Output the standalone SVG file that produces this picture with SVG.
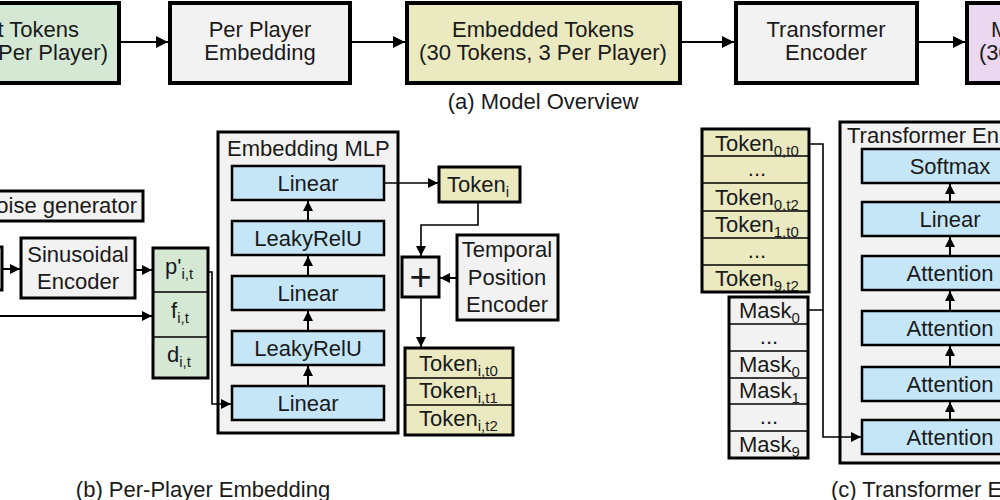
<svg xmlns="http://www.w3.org/2000/svg" width="1000" height="500" viewBox="0 0 1000 500">
<defs>
<marker id="ah" markerUnits="userSpaceOnUse" markerWidth="12" markerHeight="12" refX="12" refY="6" orient="auto"><path d="M0,0 L12,6 L0,12 Z" fill="#000"/></marker>
<marker id="as" markerUnits="userSpaceOnUse" markerWidth="10" markerHeight="10" refX="10" refY="5" orient="auto"><path d="M0,0 L10,5 L0,10 Z" fill="#000"/></marker>
<style>
text{font-family:"Liberation Sans",Arial,sans-serif;fill:#1a1a1a;}
.t{font-size:22px;text-anchor:middle;}
.tl{font-size:22px;}
.big{stroke:#000;stroke-width:4;}
.mid{stroke:#000;stroke-width:3;}
.blk{stroke:#000;stroke-width:2.5;fill:#c5e6f6;}
.div{stroke:#000;stroke-width:1.3;}
.g{fill:#d5e8d4;} .y{fill:#ebe9c0;} .gr{fill:#f2f2f2;} .p{fill:#ead7f0;}
.c{stroke:#000;stroke-width:2;fill:none;}
.cs{stroke:#000;stroke-width:1.6;fill:none;}
.sub{font-size:15px;}
</style>
</defs>

<!-- (a) Model overview -->
<g id="input-tokens"><rect x="-30" y="3" width="149" height="80" class="g big"/><text class="tl" x="79" y="37" text-anchor="end">t Tokens</text><text class="tl" x="108" y="60" text-anchor="end">(Per Player)</text></g>
<g id="per-player-embedding"><rect x="170" y="3" width="180" height="80" class="gr big"/><text class="t" x="260" y="37">Per Player</text><text class="t" x="260" y="60">Embedding</text></g>
<g id="embedded-tokens"><rect x="407" y="3" width="273" height="80" class="y big"/><text class="t" x="543" y="37">Embedded Tokens</text><text class="t" x="543" y="60">(30 Tokens, 3 Per Player)</text></g>
<g id="transformer-encoder"><rect x="736" y="3" width="181" height="80" class="gr big"/><text class="t" x="826" y="37">Transformer</text><text class="t" x="826" y="60">Encoder</text></g>
<g id="model-output"><rect x="967" y="3" width="80" height="80" class="p big"/><text class="tl" x="991" y="37">M</text><text class="tl" x="979" y="60">(30</text></g>
<text id="caption-a" class="t" x="543" y="109">(a) Model Overview</text>

<!-- (b) Per-player embedding -->
<g id="noise-generator"><rect x="-20" y="191" width="163" height="30" class="gr mid"/><text class="tl" x="137" y="213" text-anchor="end">oise generator</text></g>
<g id="left-cut-box"><rect x="-40" y="247" width="42" height="43" class="gr mid"/></g>
<g id="sinusoidal-encoder"><rect x="21" y="238" width="114" height="60" class="gr mid"/><text class="t" x="78" y="262">Sinusoidal</text><text class="t" x="78" y="289">Encoder</text></g>
<g id="features"><rect x="153" y="248" width="55" height="130" class="g mid"/><line x1="153" y1="292" x2="208" y2="292" class="div"/><line x1="153" y1="337" x2="208" y2="337" class="div"/>
<text class="tl" x="165" y="274">p'<tspan class="sub" dy="5">i,t</tspan></text>
<text class="tl" x="171" y="318">f<tspan class="sub" dy="5">i,t</tspan></text>
<text class="tl" x="167" y="362">d<tspan class="sub" dy="5">i,t</tspan></text></g>
<g id="embedding-mlp"><rect x="218" y="132" width="180" height="301" class="gr mid"/><text class="tl" x="227" y="156">Embedding MLP</text>
<rect x="232" y="166" width="152" height="34" class="blk"/><text class="t" x="308" y="191">Linear</text>
<rect x="232" y="221" width="152" height="34" class="blk"/><text class="t" x="308" y="246">LeakyRelU</text>
<rect x="232" y="276" width="152" height="34" class="blk"/><text class="t" x="308" y="301">Linear</text>
<rect x="232" y="331" width="152" height="34" class="blk"/><text class="t" x="308" y="356">LeakyRelU</text>
<rect x="232" y="386" width="152" height="34" class="blk"/><text class="t" x="308" y="411">Linear</text></g>
<g id="token-i"><rect x="439" y="167" width="81" height="35" class="y mid"/><text class="tl" x="447" y="192">Token<tspan class="sub" dy="5">i</tspan></text></g>
<g id="plus"><rect x="402" y="257" width="37" height="40" class="gr mid"/><text x="420.5" y="290" text-anchor="middle" style="font-size:38px;">+</text></g>
<g id="temporal-position-encoder"><rect x="457" y="235" width="101" height="85" class="gr mid"/><text class="t" x="507" y="257">Temporal</text><text class="t" x="507" y="285">Position</text><text class="t" x="507" y="312">Encoder</text></g>
<g id="token-stack"><rect x="405" y="348" width="108" height="87" class="y mid"/><line x1="405" y1="378" x2="513" y2="378" class="div"/><line x1="405" y1="405" x2="513" y2="405" class="div"/>
<text class="tl" x="419" y="371">Token<tspan class="sub" dy="5">i,t0</tspan></text>
<text class="tl" x="419" y="398">Token<tspan class="sub" dy="5">i,t1</tspan></text>
<text class="tl" x="419" y="426">Token<tspan class="sub" dy="5">i,t2</tspan></text></g>
<text id="caption-b" class="t" x="203" y="497">(b) Per-Player Embedding</text>

<!-- (c) Transformer encoder -->
<g id="token-list"><rect x="702" y="129" width="107" height="163" class="y mid"/>
<line x1="702" y1="156" x2="809" y2="156" class="div"/><line x1="702" y1="183" x2="809" y2="183" class="div"/><line x1="702" y1="211" x2="809" y2="211" class="div"/><line x1="702" y1="238" x2="809" y2="238" class="div"/><line x1="702" y1="265" x2="809" y2="265" class="div"/>
<text class="tl" x="715" y="151">Token<tspan class="sub" dy="5">0,t0</tspan></text>
<text class="t" x="757" y="176">...</text>
<text class="tl" x="715" y="205">Token<tspan class="sub" dy="5">0,t2</tspan></text>
<text class="tl" x="715" y="232">Token<tspan class="sub" dy="5">1,t0</tspan></text>
<text class="t" x="757" y="258">...</text>
<text class="tl" x="715" y="286">Token<tspan class="sub" dy="5">9,t2</tspan></text></g>
<g id="mask-list"><rect x="729" y="297" width="79" height="161" class="gr mid"/>
<line x1="729" y1="324" x2="808" y2="324" class="div"/><line x1="729" y1="351" x2="808" y2="351" class="div"/><line x1="729" y1="378" x2="808" y2="378" class="div"/><line x1="729" y1="404" x2="808" y2="404" class="div"/><line x1="729" y1="431" x2="808" y2="431" class="div"/>
<text class="tl" x="739" y="318">Mask<tspan class="sub" dy="5">0</tspan></text>
<text class="t" x="769" y="344">...</text>
<text class="tl" x="739" y="372">Mask<tspan class="sub" dy="5">0</tspan></text>
<text class="tl" x="739" y="398">Mask<tspan class="sub" dy="5">1</tspan></text>
<text class="t" x="769" y="424">...</text>
<text class="tl" x="739" y="452">Mask<tspan class="sub" dy="5">9</tspan></text></g>
<g id="transformer-encoder-detail"><rect x="840" y="122" width="200" height="341" class="gr mid"/><text class="tl" x="847" y="143">Transformer En</text>
<rect x="862" y="149" width="176" height="34" class="blk"/><text class="t" x="950" y="174">Softmax</text>
<rect x="862" y="202" width="176" height="34" class="blk"/><text class="t" x="950" y="227">Linear</text>
<rect x="862" y="256" width="176" height="34" class="blk"/><text class="t" x="950" y="281">Attention</text>
<rect x="862" y="311" width="176" height="34" class="blk"/><text class="t" x="950" y="336">Attention</text>
<rect x="862" y="367" width="176" height="34" class="blk"/><text class="t" x="950" y="392">Attention</text>
<rect x="862" y="420" width="176" height="34" class="blk"/><text class="t" x="950" y="445">Attention</text></g>
<text id="caption-c" class="tl" x="831" y="497">(c) Transformer E</text>

<!-- connectors -->
<g id="connectors">
<line x1="119" y1="42" x2="168" y2="42" class="c" marker-end="url(#ah)"/>
<line x1="350" y1="42" x2="405" y2="42" class="c" marker-end="url(#ah)"/>
<line x1="680" y1="42" x2="734" y2="42" class="c" marker-end="url(#ah)"/>
<line x1="917" y1="42" x2="965" y2="42" class="c" marker-end="url(#ah)"/>
<line x1="2" y1="269" x2="20" y2="269" class="c" marker-end="url(#as)"/>
<line x1="135" y1="270" x2="152" y2="270" class="c" marker-end="url(#as)"/>
<line x1="0" y1="316" x2="152" y2="316" class="c" marker-end="url(#as)"/>
<polyline points="208,272 212,272 212,404 231,404" class="cs" marker-end="url(#as)"/>
<line x1="308" y1="221" x2="308" y2="201" class="c" marker-end="url(#as)"/>
<line x1="308" y1="276" x2="308" y2="256" class="c" marker-end="url(#as)"/>
<line x1="308" y1="331" x2="308" y2="311" class="c" marker-end="url(#as)"/>
<line x1="308" y1="386" x2="308" y2="366" class="c" marker-end="url(#as)"/>
<line x1="384" y1="183" x2="438" y2="183" class="cs" marker-end="url(#as)"/>
<polyline points="478,202 478,225 421,225 421,256" class="cs" marker-end="url(#as)"/>
<line x1="457" y1="278" x2="440" y2="278" class="c" marker-end="url(#as)"/>
<line x1="421" y1="297" x2="421" y2="347" class="cs" marker-end="url(#as)"/>
<polyline points="809,144 823,144 823,310 808,310" class="cs"/>
<polyline points="823,310 823,437 861,437" class="cs" marker-end="url(#as)"/>
<line x1="950" y1="202" x2="950" y2="184" class="c" marker-end="url(#as)"/>
<line x1="950" y1="256" x2="950" y2="237" class="c" marker-end="url(#as)"/>
<line x1="950" y1="311" x2="950" y2="291" class="c" marker-end="url(#as)"/>
<line x1="950" y1="367" x2="950" y2="346" class="c" marker-end="url(#as)"/>
<line x1="950" y1="420" x2="950" y2="402" class="c" marker-end="url(#as)"/>
</g>
</svg>
